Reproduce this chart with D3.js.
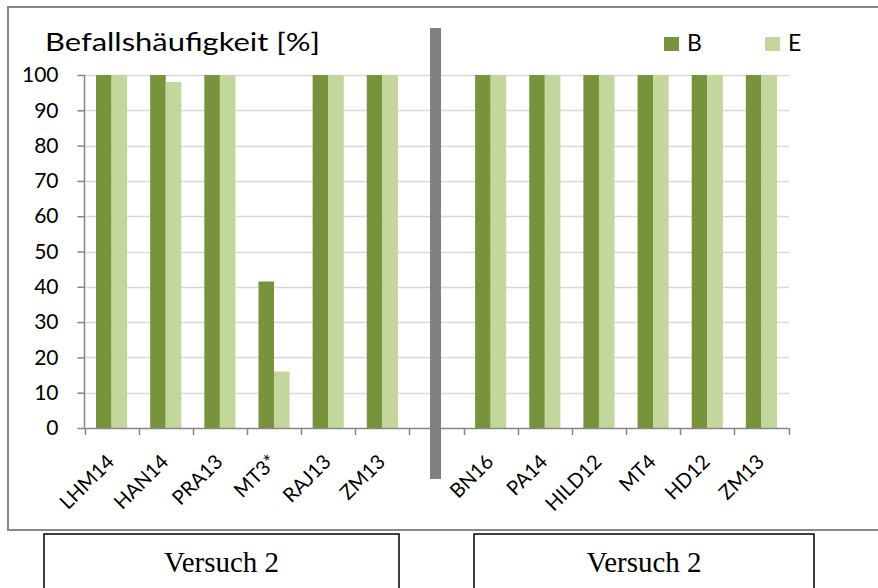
<!DOCTYPE html>
<html lang="de">
<head>
<meta charset="utf-8">
<title>Befallshäufigkeit</title>
<script src="https://d3js.org/d3.v7.min.js"></script>
<style>
  body { margin: 0; background: #fff; }
  svg { display: block; }
</style>
</head>
<body>
<div id="chart"></div>
<script>
// categories (the "gap" slot is where the divider sits)
var categories = ["LHM14", "HAN14", "PRA13", "MT3*", "RAJ13", "ZM13", "gap", "BN16", "PA14", "HILD12", "MT4", "HD12", "ZM13 "];
var valuesB = [100, 100, 100, 41.5, 100, 100, null, 100, 100, 100, 100, 100, 100];
var valuesE = [100, 98, 100, 16, 100, 100, null, 100, 100, 100, 100, 100, 100];
var seriesNames = ["B", "E"];
var yTicks = [0, 10, 20, 30, 40, 50, 60, 70, 80, 90, 100];
var groupLabels = ["Versuch 2", "Versuch 2"];

var W = 878, H = 588;
var colors = { B: "#77933C", E: "#C3D69B" };
var sans = "Lato, 'Open Sans', sans-serif";

var svg = d3.select("#chart").append("svg")
  .attr("width", W).attr("height", H);

// outer frame
svg.append("rect")
  .attr("x", 8).attr("y", 7).attr("width", 880).attr("height", 523)
  .attr("fill", "none").attr("stroke", "#888").attr("stroke-width", 2);

var x = d3.scaleBand().domain(categories).range([84.5, 788.5]).paddingInner(0).paddingOuter(0);
var xs = d3.scaleBand().domain(seriesNames).range([0, x.bandwidth()]).paddingOuter(0.74).paddingInner(0);
var y = d3.scaleLinear().domain([0, 100]).range([428, 75]);

// gridlines
svg.append("g").selectAll("line")
  .data(yTicks.filter(function(d){ return d > 0; }))
  .enter().append("line")
  .attr("x1", 84).attr("x2", 789)
  .attr("y1", function(d){ return Math.round(y(d)) + 0.5; })
  .attr("y2", function(d){ return Math.round(y(d)) + 0.5; })
  .attr("stroke", "#d9d9d9").attr("stroke-width", 1.5);

// bars
var rows = categories.map(function(c, i){ return { cat: c, B: valuesB[i], E: valuesE[i] }; });
var groups = svg.append("g").selectAll("g")
  .data(rows).enter().append("g")
  .attr("transform", function(d){ return "translate(" + x(d.cat) + ",0)"; });

groups.selectAll("rect")
  .data(function(d){
    return seriesNames.filter(function(s){ return d[s] != null; })
      .map(function(s){ return { key: s, value: d[s] }; });
  })
  .enter().append("rect")
  .attr("x", function(d){ return xs(d.key); })
  .attr("width", xs.bandwidth())
  .attr("y", function(d){ return y(d.value); })
  .attr("height", function(d){ return y(0) - y(d.value); })
  .attr("fill", function(d){ return colors[d.key]; });

// y axis
var yAxis = d3.axisLeft(y).tickValues(yTicks).tickSize(7).tickPadding(18);
var gy = svg.append("g").attr("transform", "translate(84.5,0)").call(yAxis);
gy.select(".domain").attr("stroke", "#868686").attr("stroke-width", 1.5)
  .attr("d", "M0," + y(0) + "V" + y(100));
gy.selectAll(".tick line").attr("stroke", "#868686").attr("stroke-width", 1.5);
gy.selectAll(".tick text")
  .attr("x", -26)
  .attr("font-family", sans)
  .attr("font-size", 21).attr("fill", "#000");

// x axis: ticks sit on the band boundaries
var gx = svg.append("g").attr("transform", "translate(0," + y(0) + ")");
gx.append("line").attr("x1", 84).attr("x2", 789).attr("y1", 0.5).attr("y2", 0.5)
  .attr("stroke", "#868686").attr("stroke-width", 1.5);
var bounds = categories.map(function(c){ return x(c); }).concat([x.range()[1]]);
gx.selectAll(".xt").data(bounds).enter().append("line")
  .attr("x1", function(d){ return Math.round(d) + 0.5; })
  .attr("x2", function(d){ return Math.round(d) + 0.5; })
  .attr("y1", 0).attr("y2", 7)
  .attr("stroke", "#868686").attr("stroke-width", 1.5);
gx.selectAll(".xl").data(categories.filter(function(c){ return c !== "gap"; }))
  .enter().append("text")
  .attr("transform", function(d){
    return "translate(" + (x(d) + x.bandwidth() / 2 + 4) + ",35) rotate(-45)";
  })
  .attr("text-anchor", "end")
  .attr("font-family", sans)
  .attr("font-size", 20).attr("fill", "#000")
  .text(function(d){ return d.trim(); });

// divider between the two trials
svg.append("rect")
  .attr("x", 430).attr("y", 28).attr("width", 11).attr("height", 451)
  .attr("fill", "#808080");

// title
svg.append("text")
  .attr("x", 45).attr("y", 51)
  .attr("font-family", sans)
  .attr("font-size", 25).attr("fill", "#000")
  .attr("textLength", 275).attr("lengthAdjust", "spacingAndGlyphs")
  .text("Befallshäufigkeit [%]");

// legend
var legendX = [664, 765];
var lg = svg.append("g").selectAll("g").data(seriesNames).enter().append("g")
  .attr("transform", function(d, i){ return "translate(" + legendX[i] + ",37)"; });
lg.append("rect").attr("width", 15).attr("height", 14)
  .attr("fill", function(d){ return colors[d]; });
lg.append("text").attr("x", 23).attr("y", 14)
  .attr("font-family", sans)
  .attr("font-size", 23).attr("fill", "#000")
  .text(function(d){ return d; });

// trial boxes below the chart
var boxes = [{ x0: 44, x1: 399 }, { x0: 474, x1: 814 }];
var bx = svg.append("g").selectAll("g").data(boxes).enter().append("g");
bx.append("rect")
  .attr("x", function(d){ return d.x0; }).attr("y", 534)
  .attr("width", function(d){ return d.x1 - d.x0; }).attr("height", 70)
  .attr("fill", "#fff").attr("stroke", "#000").attr("stroke-width", 1.5);
bx.append("text")
  .attr("x", function(d){ return (d.x0 + d.x1) / 2; }).attr("y", 572)
  .attr("text-anchor", "middle")
  .attr("font-family", "'Liberation Serif', 'Times New Roman', serif")
  .attr("font-size", 29).attr("fill", "#000")
  .text(function(d, i){ return groupLabels[i]; });
</script>
</body>
</html>
